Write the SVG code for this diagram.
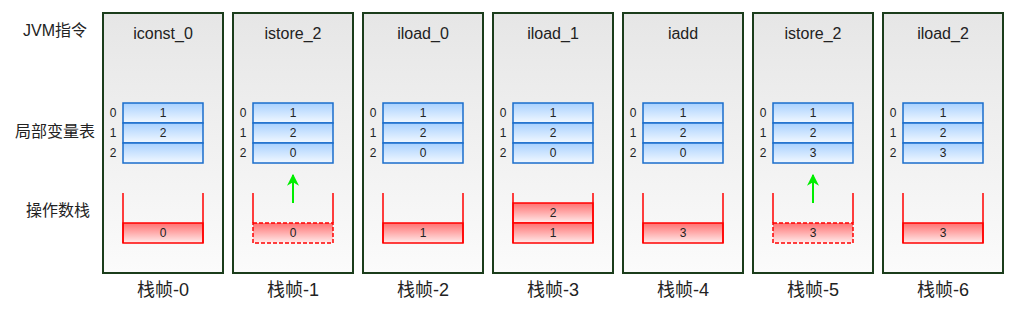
<svg xmlns="http://www.w3.org/2000/svg" width="1024" height="319" viewBox="0 0 1024 319">
<defs>
<linearGradient id="gFrame" x1="0" y1="0" x2="0" y2="1"><stop offset="0" stop-color="#e6e6e6"/><stop offset="1" stop-color="#fbfbfb"/></linearGradient>
<linearGradient id="gBlue" x1="0" y1="0" x2="0" y2="1"><stop offset="0" stop-color="#a8d1ff"/><stop offset="1" stop-color="#f2f8ff"/></linearGradient>
<linearGradient id="gRed" x1="0" y1="0" x2="0" y2="1"><stop offset="0" stop-color="#ff7070"/><stop offset="1" stop-color="#ffecec"/></linearGradient>
<marker id="ah" viewBox="0 0 10 10" refX="9" refY="5" markerWidth="6" markerHeight="6" orient="auto" markerUnits="strokeWidth"><path d="M0,0 L10,5 L0,10 L3,5 z" fill="#00ee00"/></marker>
<style>
.frame{fill:url(#gFrame);stroke:#1b3d1b;stroke-width:2}
.var{fill:url(#gBlue);stroke:#1a6dcc;stroke-width:1.5}
.cell{fill:url(#gRed);stroke:#ff0000;stroke-width:1.5}
.dash{stroke-dasharray:4 2}
.wall{fill:none;stroke:#ff0000;stroke-width:1.5}
text{font-family:"Liberation Sans","Noto Sans CJK SC",sans-serif;fill:#222}
.side{font-size:16px;text-anchor:middle}
.ins{font-size:16px;text-anchor:middle}
.lbl{font-size:18px;text-anchor:middle}
.num{font-size:12px;text-anchor:middle}
.arr{stroke:#00ee00;stroke-width:2;fill:none}
</style>
</defs>
<g id="side-labels">
<text class="side" x="55" y="36">JVM指令</text>
<text class="side" x="55" y="137">局部变量表</text>
<text class="side" x="58" y="216">操作数栈</text>
</g>
<g id="frame-0">
<rect class="frame" x="103" y="13" width="120" height="260"/>
<text class="ins" x="163" y="39">iconst_0</text>
<rect class="var" x="123" y="103" width="80" height="20"/><rect class="var" x="123" y="123" width="80" height="20"/><rect class="var" x="123" y="143" width="80" height="20"/>
<text class="num" x="113" y="117">0</text><text class="num" x="113" y="137">1</text><text class="num" x="113" y="157">2</text>
<text class="num" x="163" y="117">1</text><text class="num" x="163" y="137">2</text>
<rect class="cell" x="123" y="223" width="80" height="20"/>
<path class="wall" d="M123,193 V243 M203,193 V243"/>
<text class="num" x="163" y="237">0</text>
<text class="lbl" x="163" y="296">栈帧-0</text>
</g>
<g id="frame-1">
<rect class="frame" x="233" y="13" width="120" height="260"/>
<text class="ins" x="293" y="39">istore_2</text>
<rect class="var" x="253" y="103" width="80" height="20"/><rect class="var" x="253" y="123" width="80" height="20"/><rect class="var" x="253" y="143" width="80" height="20"/>
<text class="num" x="243" y="117">0</text><text class="num" x="243" y="137">1</text><text class="num" x="243" y="157">2</text>
<text class="num" x="293" y="117">1</text><text class="num" x="293" y="137">2</text><text class="num" x="293" y="157">0</text>
<rect class="cell dash" x="253" y="223" width="80" height="20"/>
<path class="wall" d="M253,193 V223 M333,193 V223"/>
<text class="num" x="293" y="237">0</text>
<text class="lbl" x="293" y="296">栈帧-1</text>
</g>
<g id="frame-2">
<rect class="frame" x="363" y="13" width="120" height="260"/>
<text class="ins" x="423" y="39">iload_0</text>
<rect class="var" x="383" y="103" width="80" height="20"/><rect class="var" x="383" y="123" width="80" height="20"/><rect class="var" x="383" y="143" width="80" height="20"/>
<text class="num" x="373" y="117">0</text><text class="num" x="373" y="137">1</text><text class="num" x="373" y="157">2</text>
<text class="num" x="423" y="117">1</text><text class="num" x="423" y="137">2</text><text class="num" x="423" y="157">0</text>
<rect class="cell" x="383" y="223" width="80" height="20"/>
<path class="wall" d="M383,193 V243 M463,193 V243"/>
<text class="num" x="423" y="237">1</text>
<text class="lbl" x="423" y="296">栈帧-2</text>
</g>
<g id="frame-3">
<rect class="frame" x="493" y="13" width="120" height="260"/>
<text class="ins" x="553" y="39">iload_1</text>
<rect class="var" x="513" y="103" width="80" height="20"/><rect class="var" x="513" y="123" width="80" height="20"/><rect class="var" x="513" y="143" width="80" height="20"/>
<text class="num" x="503" y="117">0</text><text class="num" x="503" y="137">1</text><text class="num" x="503" y="157">2</text>
<text class="num" x="553" y="117">1</text><text class="num" x="553" y="137">2</text><text class="num" x="553" y="157">0</text>
<rect class="cell" x="513" y="203" width="80" height="20"/>
<rect class="cell" x="513" y="223" width="80" height="20"/>
<path class="wall" d="M513,193 V243 M593,193 V243"/>
<text class="num" x="553" y="217">2</text>
<text class="num" x="553" y="237">1</text>
<text class="lbl" x="553" y="296">栈帧-3</text>
</g>
<g id="frame-4">
<rect class="frame" x="623" y="13" width="120" height="260"/>
<text class="ins" x="683" y="39">iadd</text>
<rect class="var" x="643" y="103" width="80" height="20"/><rect class="var" x="643" y="123" width="80" height="20"/><rect class="var" x="643" y="143" width="80" height="20"/>
<text class="num" x="633" y="117">0</text><text class="num" x="633" y="137">1</text><text class="num" x="633" y="157">2</text>
<text class="num" x="683" y="117">1</text><text class="num" x="683" y="137">2</text><text class="num" x="683" y="157">0</text>
<rect class="cell" x="643" y="223" width="80" height="20"/>
<path class="wall" d="M643,193 V243 M723,193 V243"/>
<text class="num" x="683" y="237">3</text>
<text class="lbl" x="683" y="296">栈帧-4</text>
</g>
<g id="frame-5">
<rect class="frame" x="753" y="13" width="120" height="260"/>
<text class="ins" x="813" y="39">istore_2</text>
<rect class="var" x="773" y="103" width="80" height="20"/><rect class="var" x="773" y="123" width="80" height="20"/><rect class="var" x="773" y="143" width="80" height="20"/>
<text class="num" x="763" y="117">0</text><text class="num" x="763" y="137">1</text><text class="num" x="763" y="157">2</text>
<text class="num" x="813" y="117">1</text><text class="num" x="813" y="137">2</text><text class="num" x="813" y="157">3</text>
<rect class="cell dash" x="773" y="223" width="80" height="20"/>
<path class="wall" d="M773,193 V223 M853,193 V223"/>
<text class="num" x="813" y="237">3</text>
<text class="lbl" x="813" y="296">栈帧-5</text>
</g>
<g id="frame-6">
<rect class="frame" x="883" y="13" width="120" height="260"/>
<text class="ins" x="943" y="39">iload_2</text>
<rect class="var" x="903" y="103" width="80" height="20"/><rect class="var" x="903" y="123" width="80" height="20"/><rect class="var" x="903" y="143" width="80" height="20"/>
<text class="num" x="893" y="117">0</text><text class="num" x="893" y="137">1</text><text class="num" x="893" y="157">2</text>
<text class="num" x="943" y="117">1</text><text class="num" x="943" y="137">2</text><text class="num" x="943" y="157">3</text>
<rect class="cell" x="903" y="223" width="80" height="20"/>
<path class="wall" d="M903,193 V243 M983,193 V243"/>
<text class="num" x="943" y="237">3</text>
<text class="lbl" x="943" y="296">栈帧-6</text>
</g>
<g id="connectors">
<path class="arr" d="M293,203 V175" marker-end="url(#ah)"/>
<path class="arr" d="M813,203 V175" marker-end="url(#ah)"/>
</g>
</svg>
